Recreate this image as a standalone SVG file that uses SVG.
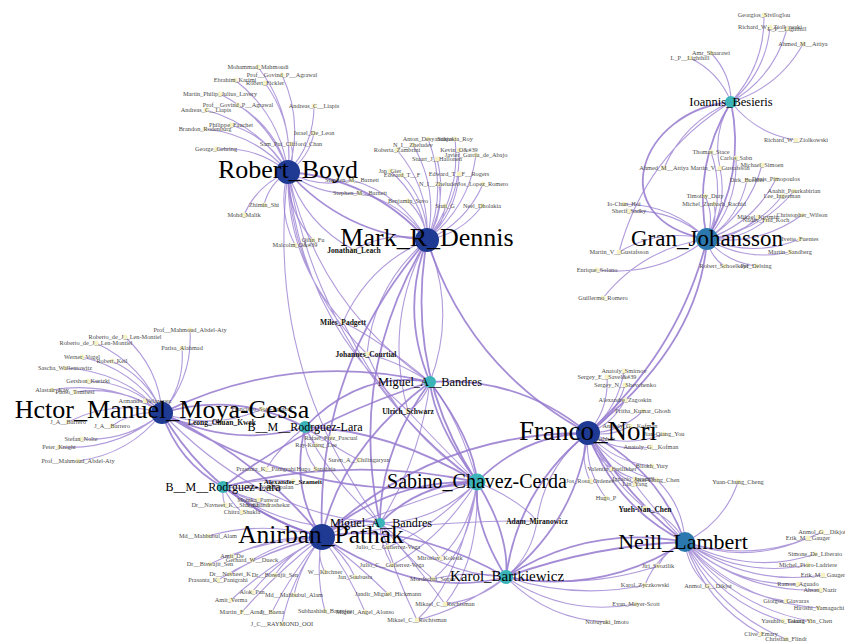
<svg xmlns="http://www.w3.org/2000/svg" width="845" height="642" viewBox="0 0 845 642">
<style>
.e{fill:none;stroke:#9579cf;stroke-width:1.1;stroke-opacity:.75}
.t{stroke-width:1.8;stroke-opacity:.85}
.lf circle{fill:#f6f2c4}
.lf text{font-family:"Liberation Serif","Times New Roman",serif;font-size:6.3px;fill:#4a4a4a;text-anchor:middle}
.bd circle{fill:#f6f2c4}
.bd text{font-family:"Liberation Serif","Times New Roman",serif;font-size:7.5px;font-weight:bold;fill:#111;text-anchor:middle}
.hub text{font-family:"Liberation Serif","Times New Roman",serif;fill:#000;text-anchor:middle}
.dk{fill:#1f3a93}.tl{fill:#3ab4b8}.sb{fill:#2a78ad}
</style>
<rect width="845" height="642" fill="#fff"/>
<g id="connectors">
<path class="e" d="M288 172Q294 114 258 67M288 172Q304 122 282 75M288 172Q280 115 235 80M288 172Q294 123 265 83M288 172Q270 119 220 94M288 172Q276 128 238 105M288 172Q259 125 206 110M288 172Q314 144 314 106M288 172Q269 137 231 125M288 172Q255 134 205 129M288 172Q257 146 216 149M288 172Q309 158 314 133M288 172Q295 159 291 144M288 172Q269 184 264 205M288 172Q257 185 244 215M288 172Q318 189 352 180M288 172Q320 197 360 193M288 172Q277 210 295 245M288 172Q287 211 313 240M288 172Q305 224 354 250"/>
<path class="e t" d="M288 172Q344 234 427 240M288 172Q371 178 427 240"/>
<path class="e" d="M288 172Q286 258 343 322M288 172Q291 279 367 354M288 172Q317 305 430 382M288 172Q300 316 408 411M288 172Q321 365 477 482M288 172Q264 366 380 523"/>
<path class="e" d="M427 240Q448 190 428 139M427 240Q461 195 455 139M427 240Q439 190 413 145M427 240Q430 189 397 150M427 240Q461 201 459 150M427 240Q469 207 476 155M427 240Q448 202 437 159M427 240Q422 198 390 171M427 240Q428 203 402 175M427 240Q456 213 459 174M427 240Q444 214 439 184M427 240Q466 223 483 184M427 240Q425 217 408 201M427 240Q443 227 445 206M427 240Q461 234 482 206M427 240Q402 195 352 180M427 240Q403 203 360 193M427 240Q389 230 354 250M427 240Q369 264 343 322M427 240Q374 285 367 354M427 240Q383 322 408 411M427 240Q457 311 430 382"/>
<path class="e t" d="M427 240Q400 312 430 382M427 240Q404 371 477 482M427 240Q347 372 380 523M427 240Q469 369 588 433M427 240Q315 368 322 537"/>
<path class="e" d="M731 102Q765 65 764 15M731 102Q766 72 770 27M731 102Q774 77 787 29M731 102Q779 87 803 44M731 102Q731 74 711 53M731 102Q719 72 690 58M731 102Q756 134 796 140M731 102Q684 122 664 168M731 102Q712 133 720 168M731 102Q645 155 619 252"/>
<path class="e t" d="M731 102Q692 166 707 239M731 102Q746 175 707 239M731 102C640 110 600 220 707 239"/>
<path class="e" d="M707 239Q726 196 711 152M707 239Q738 204 736 158M707 239Q749 213 762 165M707 239Q728 206 720 168M707 239Q739 218 747 180M707 239Q754 223 776 179M707 239Q760 232 794 191M707 239Q753 233 782 196M707 239Q715 217 705 196M707 239Q718 223 714 204M707 239Q673 205 624 204M707 239Q674 209 629 211M707 239Q759 246 802 215M707 239Q737 238 758 217M707 239Q740 241 766 220M707 239Q754 258 800 239M707 239Q746 262 790 252M707 239Q660 228 619 252M707 239Q710 256 724 266M707 239Q726 262 756 266M707 239Q658 277 597 270M707 239Q643 248 603 298"/>
<path class="e t" d="M707 239Q700 345 588 433M707 239Q680 350 588 433"/>
<path class="e" d="M162 413Q193 377 190 330M162 413Q159 368 125 337M162 413Q143 365 96 343M162 413Q185 385 182 348M162 413Q133 369 82 357M162 413Q147 377 112 361M162 413Q123 371 65 368M162 413Q131 382 88 381M162 413Q112 380 52 390M162 413Q123 385 75 392M162 413Q150 405 145 401M162 413Q113 399 68 422M162 413Q134 410 112 426M162 413Q127 442 81 439M162 413Q117 451 59 447M162 413Q130 454 78 461M162 413Q213 431 262 409M162 413Q190 430 222 422M162 413Q260 515 380 523"/>
<path class="e t" d="M162 413Q231 449 305 427M162 413Q236 391 305 427M162 413Q290 350 430 382M162 413Q320 510 477 482M162 413Q260 460 322 537M162 413Q215 505 322 537M162 413Q178 462 223 487"/>
<path class="e" d="M305 427Q320 440 331 438M305 427Q312 440 316 445M305 427Q336 448 359 460M305 427Q280 446 266 469M305 427Q302 452 316 469M305 427Q330 480 380 523"/>
<path class="e t" d="M305 427Q360 370 430 382M305 427Q390 430 477 482M305 427Q290 490 322 537"/>
<path class="e" d="M223 487Q260 478 293 481M223 487Q250 490 270 487M223 487Q240 496 258 500M223 487Q222 498 225 505M223 487Q250 502 268 505M223 487Q232 504 242 512M223 487Q300 540 380 523"/>
<path class="e t" d="M223 487Q275 525 322 537M223 487Q350 455 477 482M223 487Q310 420 430 382"/>
<path class="e" d="M322 537Q265 520 208 536M322 537Q275 535 232 556M322 537Q285 540 252 560M322 537Q260 540 210 564M322 537Q270 548 230 574M322 537Q290 552 275 575M322 537Q316 556 325 572M322 537Q345 555 355 577M322 537Q262 552 218 580M322 537Q278 560 252 592M322 537Q300 566 294 595M322 537Q360 566 388 594M322 537Q267 566 231 600M322 537Q275 574 242 612M322 537Q290 575 272 612M322 537Q315 575 325 611M322 537Q350 575 365 612M322 537Q290 580 282 624M322 537Q440 520 537 521M322 537Q400 505 477 482"/>
<path class="e t" d="M322 537Q350 515 380 523M322 537Q389 479 477 482M322 537Q406 520 506 577M322 537Q420 600 506 577M322 537Q434 432 588 433"/>
<path class="e" d="M380 523Q390 535 388 547M380 523Q380 545 392 565M380 523Q420 530 440 558M380 523Q410 560 433 579M380 523Q420 570 445 604M380 523Q395 575 417 620M380 523Q440 575 506 577"/>
<path class="e" d="M477 482Q428 433 408 411M477 482Q400 430 367 354M477 482Q390 420 343 322M477 482Q430 530 388 547M477 482Q440 540 392 565M477 482Q470 530 440 558M477 482Q470 550 433 579M477 482Q480 560 445 604M477 482Q460 580 417 620M477 482Q520 500 537 521M477 482Q460 420 430 382M477 482Q437 522 380 523"/>
<path class="e t" d="M477 482Q434 423 430 382M477 482Q474 441 430 382M477 482Q420 483 380 523M477 482Q473 524 506 577M477 482Q510 535 506 577M477 482Q523 435 588 433"/>
<path class="e" d="M430 382Q425 400 408 411M430 382Q395 360 367 354M430 382Q380 340 343 322M430 382Q420 460 380 523"/>
<path class="e t" d="M430 382Q380 450 380 523M430 382Q340 450 322 537M430 382Q519 376 588 433"/>
<path class="e" d="M588 433Q618 409 624 371M588 433Q609 409 607 377M588 433Q616 416 625 385M588 433Q613 424 625 400M588 433Q620 433 643 411M588 433Q612 437 630 426M588 433Q626 449 664 434M588 433Q617 453 651 447M588 433Q593 456 612 469M588 433Q613 462 652 466M588 433Q579 457 590 481M588 433Q601 468 635 479M588 433Q605 470 635 484M588 433Q613 470 657 480M588 433Q584 469 606 498M588 433Q610 480 645 508M588 433Q545 466 537 521"/>
<path class="e t" d="M588 433Q615 507 685 542M588 433Q658 468 685 542M588 433Q630 500 685 542M588 433Q518 489 506 577M588 433Q576 521 506 577"/>
<path class="e" d="M685 542Q756 564 822 532M685 542Q747 565 808 538M685 542Q751 576 815 554M685 542Q742 578 808 565M685 542Q750 587 823 575M685 542Q733 586 798 584M685 542Q743 593 820 590M685 542Q724 592 786 601M685 542Q739 602 819 608M685 542Q718 601 783 621M685 542Q732 607 810 621M685 542Q705 603 761 634M685 542Q716 611 786 639M685 542Q688 569 708 586M685 542Q667 549 658 566M685 542Q656 556 645 585M685 542Q724 523 738 482M685 542Q683 505 657 480M685 542Q672 517 645 508M685 542Q650 505 635 484"/>
<path class="e t" d="M685 542Q589 524 506 577M685 542Q603 595 506 577M685 542Q595 545 506 577"/>
<path class="e" d="M506 577Q585 590 658 566M506 577Q575 600 645 585M506 577Q566 617 636 604M506 577Q548 620 607 622M506 577Q470 570 433 579M506 577Q480 600 445 604M506 577Q460 610 417 620M506 577Q532 555 537 521"/>
</g>
<g id="leaves">
<g id="n-mohammad-mahmoudi" class="lf"><circle cx="258" cy="67" r="2.5"/><text x="258" y="69">Mohammad_Mahmoudi</text></g>
<g id="n-govind-agrawal-1" class="lf"><circle cx="282" cy="75" r="2.5"/><text x="282" y="77">Prof__Govind_P__Agrawal</text></g>
<g id="n-ebrahim-karimi" class="lf"><circle cx="235" cy="80" r="2.5"/><text x="235" y="82">Ebrahim_Karimi</text></g>
<g id="n-robert-fickler" class="lf"><circle cx="265" cy="83" r="2.5"/><text x="265" y="85">Robert_Fickler</text></g>
<g id="n-martin-lavery" class="lf"><circle cx="220" cy="94" r="2.5"/><text x="220" y="96">Martin_Philip_Julius_Lavery</text></g>
<g id="n-govind-agrawal-2" class="lf"><circle cx="238" cy="105" r="2.5"/><text x="238" y="107">Prof__Govind_P__Agrawal</text></g>
<g id="n-andreas-liapis-1" class="lf"><circle cx="206" cy="110" r="2.5"/><text x="206" y="112">Andreas_C__Liapis</text></g>
<g id="n-andreas-liapis-2" class="lf"><circle cx="314" cy="106" r="2.5"/><text x="314" y="108">Andreas_C__Liapis</text></g>
<g id="n-philippe-fauchet" class="lf"><circle cx="231" cy="125" r="2.5"/><text x="231" y="127">Philippe_Fauchet</text></g>
<g id="n-brandon-rodenburg" class="lf"><circle cx="205" cy="129" r="2.5"/><text x="205" y="131">Brandon_Rodenburg</text></g>
<g id="n-george-gehring" class="lf"><circle cx="216" cy="149" r="2.5"/><text x="216" y="151">George_Gehring</text></g>
<g id="n-israel-de-leon" class="lf"><circle cx="314" cy="133" r="2.5"/><text x="314" y="135">Israel_De_Leon</text></g>
<g id="n-sam-chan" class="lf"><circle cx="291" cy="144" r="2.5"/><text x="291" y="146">Sam_Pui_Clifford_Chan</text></g>
<g id="n-zhimin-shi" class="lf"><circle cx="264" cy="205" r="2.5"/><text x="264" y="207">Zhimin_Shi</text></g>
<g id="n-mohd-malik" class="lf"><circle cx="244" cy="215" r="2.5"/><text x="244" y="217">Mohd_Malik</text></g>
<g id="n-stephen-barnett-1" class="lf"><circle cx="352" cy="180" r="2.5"/><text x="352" y="182">Stephen_M__Barnett</text></g>
<g id="n-stephen-barnett-2" class="lf"><circle cx="360" cy="193" r="2.5"/><text x="360" y="195">Stephen_M__Barnett</text></g>
<g id="n-malcolm" class="lf"><circle cx="295" cy="245" r="2.5"/><text x="295" y="247">Malcolm_O&amp;#39</text></g>
<g id="n-qilin-fu" class="lf"><circle cx="313" cy="240" r="2.5"/><text x="313" y="242">Qilin_Fu</text></g>
<g id="n-anton-desyatnikov" class="lf"><circle cx="428" cy="139" r="2.5"/><text x="428" y="141">Anton_Desyatnikov</text></g>
<g id="n-sanjukta-roy" class="lf"><circle cx="455" cy="139" r="2.5"/><text x="455" y="141">Sanjukta_Roy</text></g>
<g id="n-zheludev-1" class="lf"><circle cx="413" cy="145" r="2.5"/><text x="413" y="147">N_I__Zheludev</text></g>
<g id="n-roberta-zambrini" class="lf"><circle cx="397" cy="150" r="2.5"/><text x="397" y="152">Roberta_Zambrini</text></g>
<g id="n-kevin" class="lf"><circle cx="459" cy="150" r="2.5"/><text x="459" y="152">Kevin_O&amp;#39</text></g>
<g id="n-garcia-de-abajo" class="lf"><circle cx="476" cy="155" r="2.5"/><text x="476" y="157">Javier_Garcia_de_Abajo</text></g>
<g id="n-hallonen" class="lf"><circle cx="437" cy="159" r="2.5"/><text x="437" y="161">Stuart_J__Hallonen</text></g>
<g id="n-jan-gier" class="lf"><circle cx="390" cy="171" r="2.5"/><text x="390" y="173">Jan_Gier</text></g>
<g id="n-edward-tf" class="lf"><circle cx="402" cy="175" r="2.5"/><text x="402" y="177">Edward_T__F</text></g>
<g id="n-edward-rogers" class="lf"><circle cx="459" cy="174" r="2.5"/><text x="459" y="176">Edward_T__F__Rogers</text></g>
<g id="n-zheludev-2" class="lf"><circle cx="439" cy="184" r="2.5"/><text x="439" y="186">N_I__Zheludev</text></g>
<g id="n-lopez-romero" class="lf"><circle cx="483" cy="184" r="2.5"/><text x="483" y="186">Jos_Lopez_Romero</text></g>
<g id="n-benjamin-savo" class="lf"><circle cx="408" cy="201" r="2.5"/><text x="408" y="203">Benjamin_Savo</text></g>
<g id="n-stuti-g" class="lf"><circle cx="445" cy="206" r="2.5"/><text x="445" y="208">Stuti_G</text></g>
<g id="n-dholakia" class="lf"><circle cx="482" cy="206" r="2.5"/><text x="482" y="208">Neel_Dholakia</text></g>
<g id="n-siviloglou" class="lf"><circle cx="764" cy="15" r="2.5"/><text x="764" y="17">Georgios_Siviloglou</text></g>
<g id="n-ziolkowski-1" class="lf"><circle cx="770" cy="27" r="2.5"/><text x="770" y="29">Richard_W__Ziolkowski</text></g>
<g id="n-lighthill-1" class="lf"><circle cx="787" cy="29" r="2.5"/><text x="787" y="31">L_P__Lighthill</text></g>
<g id="n-attiya-1" class="lf"><circle cx="803" cy="44" r="2.5"/><text x="803" y="46">Ahmed_M__Attiya</text></g>
<g id="n-shaarawi" class="lf"><circle cx="711" cy="53" r="2.5"/><text x="711" y="55">Amr_Shaarawi</text></g>
<g id="n-lighthill-2" class="lf"><circle cx="690" cy="58" r="2.5"/><text x="690" y="60">L_P__Lighthill</text></g>
<g id="n-ziolkowski-2" class="lf"><circle cx="796" cy="140" r="2.5"/><text x="796" y="142">Richard_W__Ziolkowski</text></g>
<g id="n-attiya-2" class="lf"><circle cx="664" cy="168" r="2.5"/><text x="664" y="170">Ahmed_M__Attiya</text></g>
<g id="n-thomas-stace" class="lf"><circle cx="711" cy="152" r="2.5"/><text x="711" y="154">Thomas_Stace</text></g>
<g id="n-carlos-sabin" class="lf"><circle cx="736" cy="158" r="2.5"/><text x="736" y="160">Carlos_Sabn</text></g>
<g id="n-michael-simoen" class="lf"><circle cx="762" cy="165" r="2.5"/><text x="762" y="167">Michael_Simoen</text></g>
<g id="n-gustafsson-1" class="lf"><circle cx="720" cy="168" r="2.5"/><text x="720" y="170">Martin_V__Gustafsson</text></g>
<g id="n-dirk-buchler" class="lf"><circle cx="747" cy="180" r="2.5"/><text x="747" y="182">Dirk_Buchler</text></g>
<g id="n-pimopoulos" class="lf"><circle cx="776" cy="179" r="2.5"/><text x="776" y="181">Denis_Pimopoulos</text></g>
<g id="n-pourkabirian" class="lf"><circle cx="794" cy="191" r="2.5"/><text x="794" y="193">Anahit_Pourkabirian</text></g>
<g id="n-ingerman" class="lf"><circle cx="782" cy="196" r="2.5"/><text x="782" y="198">Lee_Ingerman</text></g>
<g id="n-timothy-duty" class="lf"><circle cx="705" cy="196" r="2.5"/><text x="705" y="198">Timothy_Duty</text></g>
<g id="n-zanbach" class="lf"><circle cx="714" cy="204" r="2.5"/><text x="714" y="206">Michel_Zanbach_Rachid</text></g>
<g id="n-io-chun-hoi" class="lf"><circle cx="624" cy="204" r="2.5"/><text x="624" y="206">Io-Chun_Hoi</text></g>
<g id="n-sherif-sadky" class="lf"><circle cx="629" cy="211" r="2.5"/><text x="629" y="213">Sherif_Sadky</text></g>
<g id="n-christopher-wilson" class="lf"><circle cx="802" cy="215" r="2.5"/><text x="802" y="217">Christopher_Wilson</text></g>
<g id="n-mikael-kuzmin" class="lf"><circle cx="758" cy="217" r="2.5"/><text x="758" y="219">Mikael_Kuzmin</text></g>
<g id="n-nadav-koch" class="lf"><circle cx="766" cy="220" r="2.5"/><text x="766" y="222">Nadav_Frid_Koch</text></g>
<g id="n-ivette-fuentes" class="lf"><circle cx="800" cy="239" r="2.5"/><text x="800" y="241">Ivette_Fuentes</text></g>
<g id="n-martin-sandberg" class="lf"><circle cx="790" cy="252" r="2.5"/><text x="790" y="254">Martin_Sandberg</text></g>
<g id="n-gustafsson-2" class="lf"><circle cx="619" cy="252" r="2.5"/><text x="619" y="254">Martin_V__Gustafsson</text></g>
<g id="n-schoelkopf" class="lf"><circle cx="724" cy="266" r="2.5"/><text x="724" y="268">Robert_Schoelkopf</text></g>
<g id="n-per-delsing" class="lf"><circle cx="756" cy="266" r="2.5"/><text x="756" y="268">Per_Delsing</text></g>
<g id="n-enrique-solano" class="lf"><circle cx="597" cy="270" r="2.5"/><text x="597" y="272">Enrique_Solano</text></g>
<g id="n-guillermo-romero" class="lf"><circle cx="603" cy="298" r="2.5"/><text x="603" y="300">Guillermo_Romero</text></g>
<g id="n-abdel-aty-1" class="lf"><circle cx="190" cy="330" r="2.5"/><text x="190" y="332">Prof__Mahmoud_Abdel-Aty</text></g>
<g id="n-leon-montiel-1" class="lf"><circle cx="125" cy="337" r="2.5"/><text x="125" y="339">Roberto_de_J__Len-Montiel</text></g>
<g id="n-leon-montiel-2" class="lf"><circle cx="96" cy="343" r="2.5"/><text x="96" y="345">Roberto_de_J__Len-Montiel</text></g>
<g id="n-parisa" class="lf"><circle cx="182" cy="348" r="2.5"/><text x="182" y="350">Parisa_Alahmad</text></g>
<g id="n-werner-vogel" class="lf"><circle cx="82" cy="357" r="2.5"/><text x="82" y="359">Werner_Vogel</text></g>
<g id="n-robert-keil" class="lf"><circle cx="112" cy="361" r="2.5"/><text x="112" y="363">Robert_Keil</text></g>
<g id="n-wallentowitz" class="lf"><circle cx="65" cy="368" r="2.5"/><text x="65" y="370">Sascha_Wallentowitz</text></g>
<g id="n-kurizki" class="lf"><circle cx="88" cy="381" r="2.5"/><text x="88" y="383">Gershon_Kurizki</text></g>
<g id="n-alastair-kay" class="lf"><circle cx="52" cy="390" r="2.5"/><text x="52" y="392">Alastair_Kay</text></g>
<g id="n-tombesi" class="lf"><circle cx="75" cy="392" r="2.5"/><text x="75" y="394">Paolo_Tombesi</text></g>
<g id="n-velazquez" class="lf"><circle cx="145" cy="401" r="2.5"/><text x="145" y="403">Armando_Velazquez</text></g>
<g id="n-barrero-1" class="lf"><circle cx="68" cy="422" r="2.5"/><text x="68" y="424">J_A__Barrero</text></g>
<g id="n-barrero-2" class="lf"><circle cx="112" cy="426" r="2.5"/><text x="112" y="428">J_A__Barrero</text></g>
<g id="n-stefan-nolte" class="lf"><circle cx="81" cy="439" r="2.5"/><text x="81" y="441">Stefan_Nolte</text></g>
<g id="n-peter-knight" class="lf"><circle cx="59" cy="447" r="2.5"/><text x="59" y="449">Peter_Knight</text></g>
<g id="n-abdel-aty-2" class="lf"><circle cx="78" cy="461" r="2.5"/><text x="78" y="463">Prof__Mahmoud_Abdel-Aty</text></g>
<g id="n-soto-eguibar" class="lf"><circle cx="262" cy="409" r="2.5"/><text x="262" y="411">Francisco_Soto-Eguibar</text></g>
<g id="n-rafael-perez" class="lf"><circle cx="331" cy="438" r="2.5"/><text x="331" y="440">Rafael_Prez_Pascual</text></g>
<g id="n-ray-kuang-lee" class="lf"><circle cx="316" cy="445" r="2.5"/><text x="316" y="447">Ray-Kuang_Lee</text></g>
<g id="n-chilingaryan" class="lf"><circle cx="359" cy="460" r="2.5"/><text x="359" y="462">Suren_A__Chilingaryan</text></g>
<g id="n-panigrahi-1" class="lf"><circle cx="266" cy="469" r="2.5"/><text x="266" y="471">Prasanta_K__Panigrahi</text></g>
<g id="n-hugo-sanabria" class="lf"><circle cx="316" cy="469" r="2.5"/><text x="316" y="471">Hugo_Sanabria</text></g>
<g id="n-anu" class="lf"><circle cx="270" cy="487" r="2.5"/><text x="270" y="489">Anu_Venugopalan</text></g>
<g id="n-monika-panwar" class="lf"><circle cx="258" cy="500" r="2.5"/><text x="258" y="502">Monika_Panwar</text></g>
<g id="n-navneet-sharma" class="lf"><circle cx="225" cy="505" r="2.5"/><text x="225" y="507">Dr__Navneet_K__Sharma</text></g>
<g id="n-chandrashekar" class="lf"><circle cx="268" cy="505" r="2.5"/><text x="268" y="507">S_Chandrashekar</text></g>
<g id="n-chitra-shukla" class="lf"><circle cx="242" cy="512" r="2.5"/><text x="242" y="514">Chitra_Shukla</text></g>
<g id="n-mahbubul-1" class="lf"><circle cx="208" cy="536" r="2.5"/><text x="208" y="538">Md__Mahbubul_Alam</text></g>
<g id="n-amit-de" class="lf"><circle cx="232" cy="556" r="2.5"/><text x="232" y="558">Amit_De</text></g>
<g id="n-dueck" class="lf"><circle cx="252" cy="560" r="2.5"/><text x="252" y="562">Gerhard_W__Dueck</text></g>
<g id="n-biswajit-1" class="lf"><circle cx="210" cy="564" r="2.5"/><text x="210" y="566">Dr__Biswajit_Sen</text></g>
<g id="n-navneet-k" class="lf"><circle cx="230" cy="574" r="2.5"/><text x="230" y="576">Dr__Navneet_K</text></g>
<g id="n-biswajit-2" class="lf"><circle cx="275" cy="575" r="2.5"/><text x="275" y="577">Dr__Biswajit_Sen</text></g>
<g id="n-kirchner" class="lf"><circle cx="325" cy="572" r="2.5"/><text x="325" y="574">W__Kirchner</text></g>
<g id="n-soubusta" class="lf"><circle cx="355" cy="577" r="2.5"/><text x="355" y="579">Jan_Soubusta</text></g>
<g id="n-panigrahi-2" class="lf"><circle cx="218" cy="580" r="2.5"/><text x="218" y="582">Prasanta_K__Panigrahi</text></g>
<g id="n-alok-pan" class="lf"><circle cx="252" cy="592" r="2.5"/><text x="252" y="594">Alok_Pan</text></g>
<g id="n-mahbubul-2" class="lf"><circle cx="294" cy="595" r="2.5"/><text x="294" y="597">Md__Mahbubul_Alam</text></g>
<g id="n-hickmann" class="lf"><circle cx="388" cy="594" r="2.5"/><text x="388" y="596">Jandir_Miguel_Hickmann</text></g>
<g id="n-amit-verma" class="lf"><circle cx="231" cy="600" r="2.5"/><text x="231" y="602">Amit_Verma</text></g>
<g id="n-martin-arndt" class="lf"><circle cx="242" cy="612" r="2.5"/><text x="242" y="614">Martin_F__Arndt</text></g>
<g id="n-baena" class="lf"><circle cx="272" cy="612" r="2.5"/><text x="272" y="614">J__Baena</text></g>
<g id="n-banerjee" class="lf"><circle cx="325" cy="611" r="2.5"/><text x="325" y="613">Subhashish_Banerjee</text></g>
<g id="n-alonso" class="lf"><circle cx="365" cy="612" r="2.5"/><text x="365" y="614">Miguel_Angel_Alonso</text></g>
<g id="n-raymond-ooi" class="lf"><circle cx="282" cy="624" r="2.5"/><text x="282" y="626">J_C__RAYMOND_OOI</text></g>
<g id="n-gutierrez-1" class="lf"><circle cx="388" cy="547" r="2.5"/><text x="388" y="549">Julio_C__Gutierrez-Vega</text></g>
<g id="n-gutierrez-2" class="lf"><circle cx="392" cy="565" r="2.5"/><text x="392" y="567">Julio_C__Gutierrez-Vega</text></g>
<g id="n-kolesik" class="lf"><circle cx="440" cy="558" r="2.5"/><text x="440" y="560">Miroslav_Kolesik</text></g>
<g id="n-segev" class="lf"><circle cx="433" cy="579" r="2.5"/><text x="433" y="581">Mordechai_Segev</text></g>
<g id="n-rechtsman-1" class="lf"><circle cx="445" cy="604" r="2.5"/><text x="445" y="606">Mikael_C__Rechtsman</text></g>
<g id="n-rechtsman-2" class="lf"><circle cx="417" cy="620" r="2.5"/><text x="417" y="622">Mikael_C__Rechtsman</text></g>
<g id="n-smirnov" class="lf"><circle cx="624" cy="371" r="2.5"/><text x="624" y="373">Anatoly_Smirnov</text></g>
<g id="n-savelev" class="lf"><circle cx="607" cy="377" r="2.5"/><text x="607" y="379">Sergey_E__Savel&amp;#39</text></g>
<g id="n-shevchenko" class="lf"><circle cx="625" cy="385" r="2.5"/><text x="625" y="387">Sergey_N__Shevchenko</text></g>
<g id="n-zagoskin" class="lf"><circle cx="625" cy="400" r="2.5"/><text x="625" y="402">Alexandre_Zagoskin</text></g>
<g id="n-ghosh" class="lf"><circle cx="643" cy="411" r="2.5"/><text x="643" y="413">Pritha_Kumar_Ghosh</text></g>
<g id="n-kofman-1" class="lf"><circle cx="630" cy="426" r="2.5"/><text x="630" y="428">Anatoly_G__Kofman</text></g>
<g id="n-jian-qiang-you" class="lf"><circle cx="664" cy="434" r="2.5"/><text x="664" y="436">Jian-Qiang_You</text></g>
<g id="n-kofman-2" class="lf"><circle cx="651" cy="447" r="2.5"/><text x="651" y="449">Anatoly_G__Kofman</text></g>
<g id="n-ashhab" class="lf"><circle cx="597" cy="439" r="2.5"/><text x="597" y="441">Sahel_Ashhab</text></g>
<g id="n-freilikher" class="lf"><circle cx="612" cy="469" r="2.5"/><text x="612" y="471">Valentin_Freilikher</text></g>
<g id="n-bliokh" class="lf"><circle cx="652" cy="466" r="2.5"/><text x="652" y="468">Bliokh_Yury</text></g>
<g id="n-ordenes" class="lf"><circle cx="590" cy="481" r="2.5"/><text x="590" y="483">Jos_Rosa_Ordenes</text></g>
<g id="n-jaramillo" class="lf"><circle cx="635" cy="479" r="2.5"/><text x="635" y="481">Ignacio_Jaramillo</text></g>
<g id="n-lin-yang" class="lf"><circle cx="635" cy="484" r="2.5"/><text x="635" y="486">Lin_Yang</text></g>
<g id="n-shin-liang-chen" class="lf"><circle cx="657" cy="480" r="2.5"/><text x="657" y="482">Shin-Liang_Chen</text></g>
<g id="n-yuan-chung-cheng" class="lf"><circle cx="738" cy="482" r="2.5"/><text x="738" y="484">Yuan-Chung_Cheng</text></g>
<g id="n-hugo-p" class="lf"><circle cx="606" cy="498" r="2.5"/><text x="606" y="500">Hugo_P</text></g>
<g id="n-dikjot-1" class="lf"><circle cx="822" cy="532" r="2.5"/><text x="822" y="534">Anmol_G__Dikjot</text></g>
<g id="n-gauger-1" class="lf"><circle cx="808" cy="538" r="2.5"/><text x="808" y="540">Erik_M__Gauger</text></g>
<g id="n-de-liberato" class="lf"><circle cx="815" cy="554" r="2.5"/><text x="815" y="556">Simone_De_Liberato</text></g>
<g id="n-pioro-ladriere" class="lf"><circle cx="808" cy="565" r="2.5"/><text x="808" y="567">Michel_Pioro-Ladriere</text></g>
<g id="n-gauger-2" class="lf"><circle cx="823" cy="575" r="2.5"/><text x="823" y="577">Erik_M__Gauger</text></g>
<g id="n-aguado" class="lf"><circle cx="798" cy="584" r="2.5"/><text x="798" y="586">Ramon_Aguado</text></g>
<g id="n-nazir" class="lf"><circle cx="820" cy="590" r="2.5"/><text x="820" y="592">Ahsan_Nazir</text></g>
<g id="n-giavaras" class="lf"><circle cx="786" cy="601" r="2.5"/><text x="786" y="603">Giorgos_Giavaras</text></g>
<g id="n-yamaguchi" class="lf"><circle cx="819" cy="608" r="2.5"/><text x="819" y="610">Hiroshi_Yamaguchi</text></g>
<g id="n-tokura" class="lf"><circle cx="783" cy="621" r="2.5"/><text x="783" y="623">Yasuhiro_Tokura</text></g>
<g id="n-guang-yin-chen" class="lf"><circle cx="810" cy="621" r="2.5"/><text x="810" y="623">Guang-Yin_Chen</text></g>
<g id="n-clive-emary" class="lf"><circle cx="761" cy="634" r="2.5"/><text x="761" y="636">Clive_Emary</text></g>
<g id="n-flindt" class="lf"><circle cx="786" cy="639" r="2.5"/><text x="786" y="641">Christian_Flindt</text></g>
<g id="n-dikjot-2" class="lf"><circle cx="708" cy="586" r="2.5"/><text x="708" y="588">Anmol_G__Dikjot</text></g>
<g id="n-svozilik" class="lf"><circle cx="658" cy="566" r="2.5"/><text x="658" y="568">Jiri_Svozilik</text></g>
<g id="n-zyczkowski" class="lf"><circle cx="645" cy="585" r="2.5"/><text x="645" y="587">Karol_Zyczkowski</text></g>
<g id="n-meyer-scott" class="lf"><circle cx="636" cy="604" r="2.5"/><text x="636" y="606">Evan_Meyer-Scott</text></g>
<g id="n-imoto" class="lf"><circle cx="607" cy="622" r="2.5"/><text x="607" y="624">Nobuyuki_Imoto</text></g>
</g>
<g id="bold-nodes">
<g id="n-jonathan-leach" class="bd"><circle cx="354" cy="250" r="2.5"/><text x="354" y="253">Jonathan_Leach</text></g>
<g id="n-miles-padgett" class="bd"><circle cx="343" cy="322" r="2.5"/><text x="343" y="325">Miles_Padgett</text></g>
<g id="n-johannes-courtial" class="bd"><circle cx="367" cy="354" r="2.5"/><text x="366" y="357">Johannes_Courtial</text></g>
<g id="n-ulrich-schwarz" class="bd"><circle cx="408" cy="411" r="2.5"/><text x="408" y="414">Ulrich_Schwarz</text></g>
<g id="n-leong-chuan-kwek" class="bd"><circle cx="222" cy="422" r="2.5"/><text x="222" y="425">Leong_Chuan_Kwek</text></g>
<g id="n-alexander-szameit" class="bd"><circle cx="293" cy="481" r="2.5"/><text x="293" y="484" style="font-size:7px">Alexander_Szameit</text></g>
<g id="n-adam-miranowicz" class="bd"><circle cx="537" cy="521" r="2.5"/><text x="537" y="524">Adam_Miranowicz</text></g>
<g id="n-yueh-nan-chen" class="bd"><circle cx="645" cy="508" r="2.5"/><text x="645" y="512">Yueh-Nan_Chen</text></g>
</g>
<g id="hubs">
<g id="n-robert-boyd" class="hub"><circle class="dk" cx="288" cy="172" r="12"/><text x="288" y="178" font-size="26">Robert_Boyd</text></g>
<g id="n-mark-dennis" class="hub"><circle class="dk" cx="427" cy="240" r="12"/><text x="427" y="246" font-size="26">Mark_R_Dennis</text></g>
<g id="n-ioannis-besieris" class="hub"><circle class="tl" cx="731" cy="102" r="6"/><text x="731" y="106" font-size="12.5">Ioannis_Besieris</text></g>
<g id="n-gran-johansson" class="hub"><circle class="sb" cx="707" cy="239" r="11"/><text x="707" y="246" font-size="23">Gran_Johansson</text></g>
<g id="n-hector-moya-cessa" class="hub"><circle class="dk" cx="162" cy="413" r="11"/><text x="162" y="418" font-size="26">Hctor_Manuel_Moya-Cessa</text></g>
<g id="n-miguel-bandres-1" class="hub"><circle class="tl" cx="430" cy="382" r="6"/><text x="430" y="386" font-size="12.4">Miguel_A__Bandres</text></g>
<g id="n-rodriguez-lara-1" class="hub"><circle class="tl" cx="305" cy="427" r="6"/><text x="305" y="431" font-size="12">B__M__Rodrguez-Lara</text></g>
<g id="n-rodriguez-lara-2" class="hub"><circle class="tl" cx="223" cy="487" r="6"/><text x="223" y="491" font-size="12">B__M__Rodrguez-Lara</text></g>
<g id="n-franco-nori" class="hub"><circle class="dk" cx="588" cy="433" r="12"/><text x="588" y="440" font-size="27">Franco_Nori</text></g>
<g id="n-sabino-chavez-cerda" class="hub"><circle class="tl" cx="477" cy="482" r="8.5"/><text x="477" y="488" font-size="20">Sabino_Chavez-Cerda</text></g>
<g id="n-miguel-bandres-2" class="hub"><circle class="tl" cx="380" cy="523" r="5"/><text x="381" y="527" font-size="12.2">Miguel_A__Bandres</text></g>
<g id="n-anirban-pathak" class="hub"><circle class="dk" cx="322" cy="537" r="13"/><text x="321" y="543" font-size="25.5">Anirban_Pathak</text></g>
<g id="n-karol-bartkiewicz" class="hub"><circle class="tl" cx="506" cy="577" r="7"/><text x="507" y="581" font-size="15">Karol_Bartkiewicz</text></g>
<g id="n-neill-lambert" class="hub"><circle class="sb" cx="685" cy="542" r="10"/><text x="683" y="549" font-size="22">Neill_Lambert</text></g>
</g>
</svg>
